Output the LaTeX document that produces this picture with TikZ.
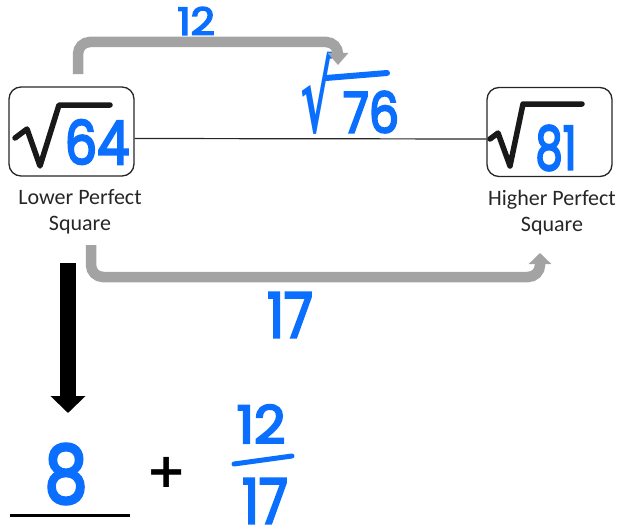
\documentclass[tikz,border=0pt]{standalone}
\usepackage{fontspec}
\usepackage{graphicx}
\setmainfont{Carlito}
\newfontfamily\hand[FakeBold=4]{Poppins}
\newfontfamily\symf{DejaVu Sans}
\usetikzlibrary{arrows.meta}
\definecolor{hb}{RGB}{10,110,255}
\definecolor{ga}{RGB}{163,163,163}
\begin{document}
\begin{tikzpicture}[x=1pt,y=-1pt,
  box/.style={draw=black!85, line width=1.3pt, rounded corners=12pt, minimum width=125pt, minimum height=89pt, inner sep=0pt},
  lab/.style={font=\fontsize{22}{26}\selectfont, align=center, inner sep=0pt, text=black!85},
  hw/.style={text=hb, inner sep=0pt},
  rad/.style={line width=5.5pt, line join=round, line cap=round, draw=black!90},
  garrow/.style={draw=ga, line width=10.5pt, rounded corners=12pt},
  ]
\useasboundingbox (0,0) rectangle (618,527);
% boxes
\node[box] (lb) at (71.5,131.5) {};
\node[box] (rb) at (549.5,132) {};
% connecting line
\draw[black!85, line width=1.2pt] ([yshift=-7pt]lb.east) -- ([yshift=-7pt]rb.west);
% radicals inside boxes
\draw[rad] (15,138) -- (27,129) -- (40,166) -- (59,105) -- (110,105);
\draw[rad] (490,139) -- (498,133) -- (510,166) -- (523,104) -- (582,104);
% handwritten numbers in boxes
\node[hw, font=\hand\fontsize{60}{60}\selectfont] (n64) at (97,142) {\scalebox{0.85}[1]{64}};
\node[hw, font=\hand\fontsize{60}{60}\selectfont] (n81) at (556,148) {\scalebox{0.72}[1]{81}};
% labels
\node[lab] (ll) at (80,212) {Lower Perfect\\Square};
\node[lab] (hl) at (552,213) {Higher Perfect\\Square};
% sqrt 76
\node[hw, font=\symf\bfseries\fontsize{60}{60}\selectfont] (r76) at (317,93) {\scalebox{0.8}[1.6]{√}};
\coordinate (r76a) at (326,78);
\coordinate (r76b) at (387,73);
\draw[hb, line width=6pt, line cap=round] (r76a) -- (r76b);
\node[hw, font=\hand\fontsize{56}{56}\selectfont] (v76) at (371,112) {\scalebox{0.85}[1]{76}};
% top gray arrow
\coordinate (ta) at (78,74);
\coordinate (tb) at (338,65);
\draw[garrow, -{Triangle[width=20pt,length=12pt]}] (ta) -- (78,42) -- (338,42) -- (tb);
\node[hw, font=\hand\fontsize{38}{38}\selectfont] (n12) at (196,21) {\scalebox{1.1}[1]{12}};
% bottom gray arrow
\coordinate (ba) at (91,245);
\coordinate (bb) at (540,253);
\draw[garrow, -{Triangle[width=22pt,length=11pt]}] (ba) -- (91,277) -- (540,277) -- (bb);
\node[hw, font=\hand\fontsize{62}{62}\selectfont] (n17) at (290,315) {\scalebox{0.85}[1]{17}};
% black down arrow
\coordinate (da) at (68,263);
\coordinate (db) at (68,413);
\draw[line width=16pt, -{Triangle[width=34pt,length=17pt]}] (da) -- (db);
% result
\node[hw, font=\hand\fontsize{80}{80}\selectfont] (n8) at (66,474) {\scalebox{0.85}[1]{8}};
\coordinate (ua) at (10,515);
\coordinate (ub) at (130,515);
\draw[line width=3pt] (ua) -- (ub);
\node[font=\symf\bfseries\fontsize{48}{48}\selectfont, inner sep=0pt] (plus) at (167,472) {+};
\node[hw, font=\hand\fontsize{52}{52}\selectfont] (fnum) at (261,424) {\scalebox{1.05}[1]{12}};
\coordinate (fa) at (234,464);
\coordinate (fb) at (292,456);
\draw[hb, line width=5pt, line cap=round] (fa) -- (fb);
\node[hw, font=\hand\fontsize{62}{62}\selectfont] (fden) at (265,501) {\scalebox{0.85}[1]{17}};
\end{tikzpicture}
\end{document}
